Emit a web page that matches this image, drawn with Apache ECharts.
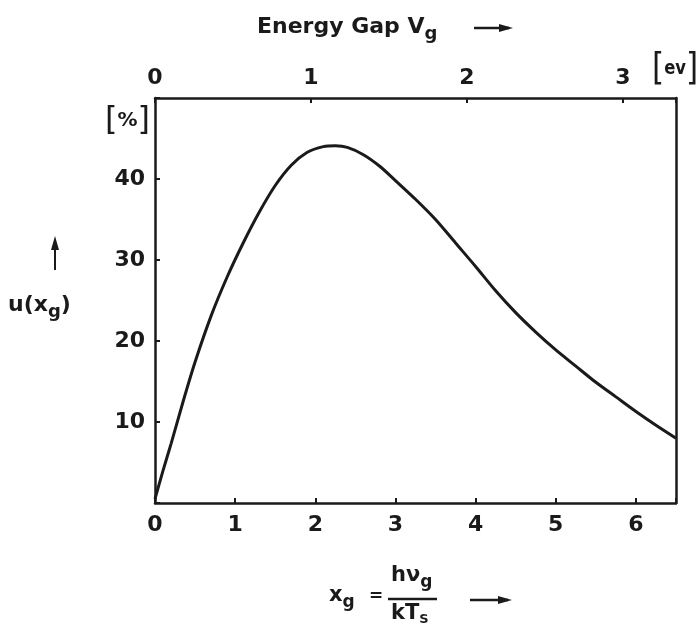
<!DOCTYPE html>
<html><head><meta charset="utf-8">
<script src="https://cdn.jsdelivr.net/npm/echarts@6/dist/echarts.min.js"></script>
<style>html,body{margin:0;padding:0;background:#fff}#c{width:697px;height:634px}</style>
</head><body><div id="c"></div>
<script>
// reduced gap x_g = h*nu_g / kT_s
const xgValues   = [0, 0.1, 0.2, 0.35, 0.5, 0.7, 0.9, 1.1, 1.3, 1.5, 1.7, 1.9, 2.1, 2.25, 2.4, 2.6, 2.8, 3.0, 3.25, 3.5, 3.75, 4.0, 4.25, 4.5, 4.75, 5.0, 5.25, 5.5, 5.75, 6.0, 6.25, 6.5];
// ultimate efficiency u(x_g) in %
const efficiency = [0.5, 4.0, 7.3, 12.5, 17.4, 23.1, 27.9, 32.1, 35.9, 39.2, 41.7, 43.3, 44.0, 44.1, 43.9, 43.0, 41.6, 39.8, 37.5, 35.0, 32.1, 29.2, 26.2, 23.5, 21.1, 18.9, 16.9, 14.9, 13.1, 11.3, 9.6, 8.0];
const bottomTickLabels = ['0','1','2','3','4','5','6'];
const topTickLabels    = ['0','1','2','3'];
const yTickLabels      = ['10','20','30','40'];
const xgMax = 6.5;
const kTs = 0.514;           // eV per unit of x_g
const yMax = 50;

const FONT = 'DejaVu Sans';
const INK = '#1a1a1a';

const chart = echarts.init(document.getElementById('c'), null, {renderer: 'canvas'});

function arrowRight(x1, x2, y) {
  return [
    {type: 'line', shape: {x1: x1, y1: y, x2: x2 - 4, y2: y}, style: {stroke: INK, lineWidth: 2.5}},
    {type: 'polygon', shape: {points: [[x2, y], [x2 - 14, y - 4], [x2 - 14, y + 4]]}, style: {fill: INK}}
  ];
}

const labelStyle = {fontFamily: FONT, fontSize: 22, color: INK, fontWeight: 'bold'};
const lineStyle = {color: INK, width: 2.5};

const option = {
  backgroundColor: '#fff',
  animation: false,
  grid: {left: 155, right: 21, top: 98, bottom: 131},
  xAxis: [
    {
      type: 'value', position: 'bottom', min: 0, max: xgMax, interval: 1,
      axisLine: {show: true, onZero: false, lineStyle: lineStyle},
      axisTick: {show: true, inside: true, length: 5, lineStyle: {color: INK, width: 2}},
      splitLine: {show: false},
      axisLabel: Object.assign({margin: 11, formatter: v => bottomTickLabels.includes(String(v)) ? String(v) : ''}, labelStyle)
    },
    {
      type: 'value', position: 'top', min: 0, max: xgMax * kTs, interval: 1,
      axisLine: {show: true, onZero: false, lineStyle: lineStyle},
      axisTick: {show: true, inside: true, length: 5, lineStyle: {color: INK, width: 2}},
      splitLine: {show: false},
      axisLabel: Object.assign({margin: 9, formatter: v => topTickLabels.includes(String(v)) ? String(v) : ''}, labelStyle)
    }
  ],
  yAxis: [
    {
      type: 'value', position: 'left', min: 0, max: yMax, interval: 10,
      axisLine: {show: true, onZero: false, lineStyle: lineStyle},
      axisTick: {show: true, inside: true, length: 5, lineStyle: {color: INK, width: 2}},
      splitLine: {show: false},
      axisLabel: Object.assign({margin: 10, formatter: v => yTickLabels.includes(String(v)) ? String(v) : ''}, labelStyle)
    },
    {
      type: 'value', position: 'right', min: 0, max: yMax, interval: 10,
      axisLine: {show: true, onZero: false, lineStyle: lineStyle},
      axisTick: {show: false}, axisLabel: {show: false}, splitLine: {show: false}
    }
  ],
  series: [{
    type: 'line',
    xAxisIndex: 0, yAxisIndex: 0,
    data: xgValues.map((x, i) => [x, efficiency[i]]),
    smooth: 0.3,
    showSymbol: false,
    lineStyle: {color: INK, width: 3}
  }],
  graphic: [
    // top title
    {type: 'text', left: 257, top: 16, style: {
      text: '{t|Energy Gap V}{s|g}',
      rich: {t: {fontFamily: FONT, fontSize: 22, fontWeight: 'bold', fill: INK},
             s: {fontFamily: FONT, fontSize: 18, fontWeight: 'bold', fill: INK, padding: [14, 0, 0, 0]}}
    }},
    ...arrowRight(474, 513, 28),
    // [ev]
    {type: 'text', x: 652, y: 50, scaleX: 0.82, style: {
      text: '{b|[}{t|ev}{b|]}',
      rich: {b: {fontFamily: FONT, fontSize: 38, fill: INK, verticalAlign: 'middle'},
             t: {fontFamily: FONT, fontSize: 20, fontWeight: 'bold', fill: INK, verticalAlign: 'middle'}}
    }},
    // [%]
    {type: 'text', left: 105, top: 105, style: {
      text: '{b|[}{t|%}{b|]}',
      rich: {b: {fontFamily: FONT, fontSize: 32, fill: INK, verticalAlign: 'middle'},
             t: {fontFamily: FONT, fontSize: 20, fontWeight: 'bold', fill: INK, verticalAlign: 'middle'}}
    }},
    // y label arrow
    {type: 'line', shape: {x1: 55, y1: 270, x2: 55, y2: 244}, style: {stroke: INK, lineWidth: 2}},
    {type: 'polygon', shape: {points: [[55, 236], [51, 250], [59, 250]]}, style: {fill: INK}},
    // u(x_g)
    {type: 'text', left: 8, top: 294, style: {
      text: '{t|u(x}{s|g}{t|)}',
      rich: {t: {fontFamily: FONT, fontSize: 22, fontWeight: 'bold', fill: INK},
             s: {fontFamily: FONT, fontSize: 18, fontWeight: 'bold', fill: INK, padding: [14, 0, 0, 0]}}
    }},
    // bottom formula x_g = h nu_g / kT_S
    {type: 'text', left: 329, top: 585, style: {
      text: '{t|x}{s|g}',
      rich: {t: {fontFamily: FONT, fontSize: 21, fontWeight: 'bold', fill: INK},
             s: {fontFamily: FONT, fontSize: 17, fontWeight: 'bold', fill: INK, padding: [14, 0, 0, 0]}}
    }},
    {type: 'text', left: 369, top: 588, style: {text: '=', fontFamily: FONT, fontSize: 17, fontWeight: 'bold', fill: INK}},
    {type: 'text', left: 391, top: 565, style: {
      text: '{t|hν}{s|g}',
      rich: {t: {fontFamily: FONT, fontSize: 21, fontWeight: 'bold', fill: INK},
             s: {fontFamily: FONT, fontSize: 17, fontWeight: 'bold', fill: INK, padding: [14, 0, 0, 0]}}
    }},
    {type: 'line', shape: {x1: 388, y1: 599, x2: 437, y2: 599}, style: {stroke: INK, lineWidth: 2.5}},
    {type: 'text', left: 391, top: 603, style: {
      text: '{t|kT}{s|S}',
      rich: {t: {fontFamily: FONT, fontSize: 21, fontWeight: 'bold', fill: INK},
             s: {fontFamily: FONT, fontSize: 13, fontWeight: 'bold', fill: INK, padding: [12, 0, 0, 0]}}
    }},
    ...arrowRight(470, 512, 600)
  ]
};
chart.setOption(option);
</script>
</body></html>
